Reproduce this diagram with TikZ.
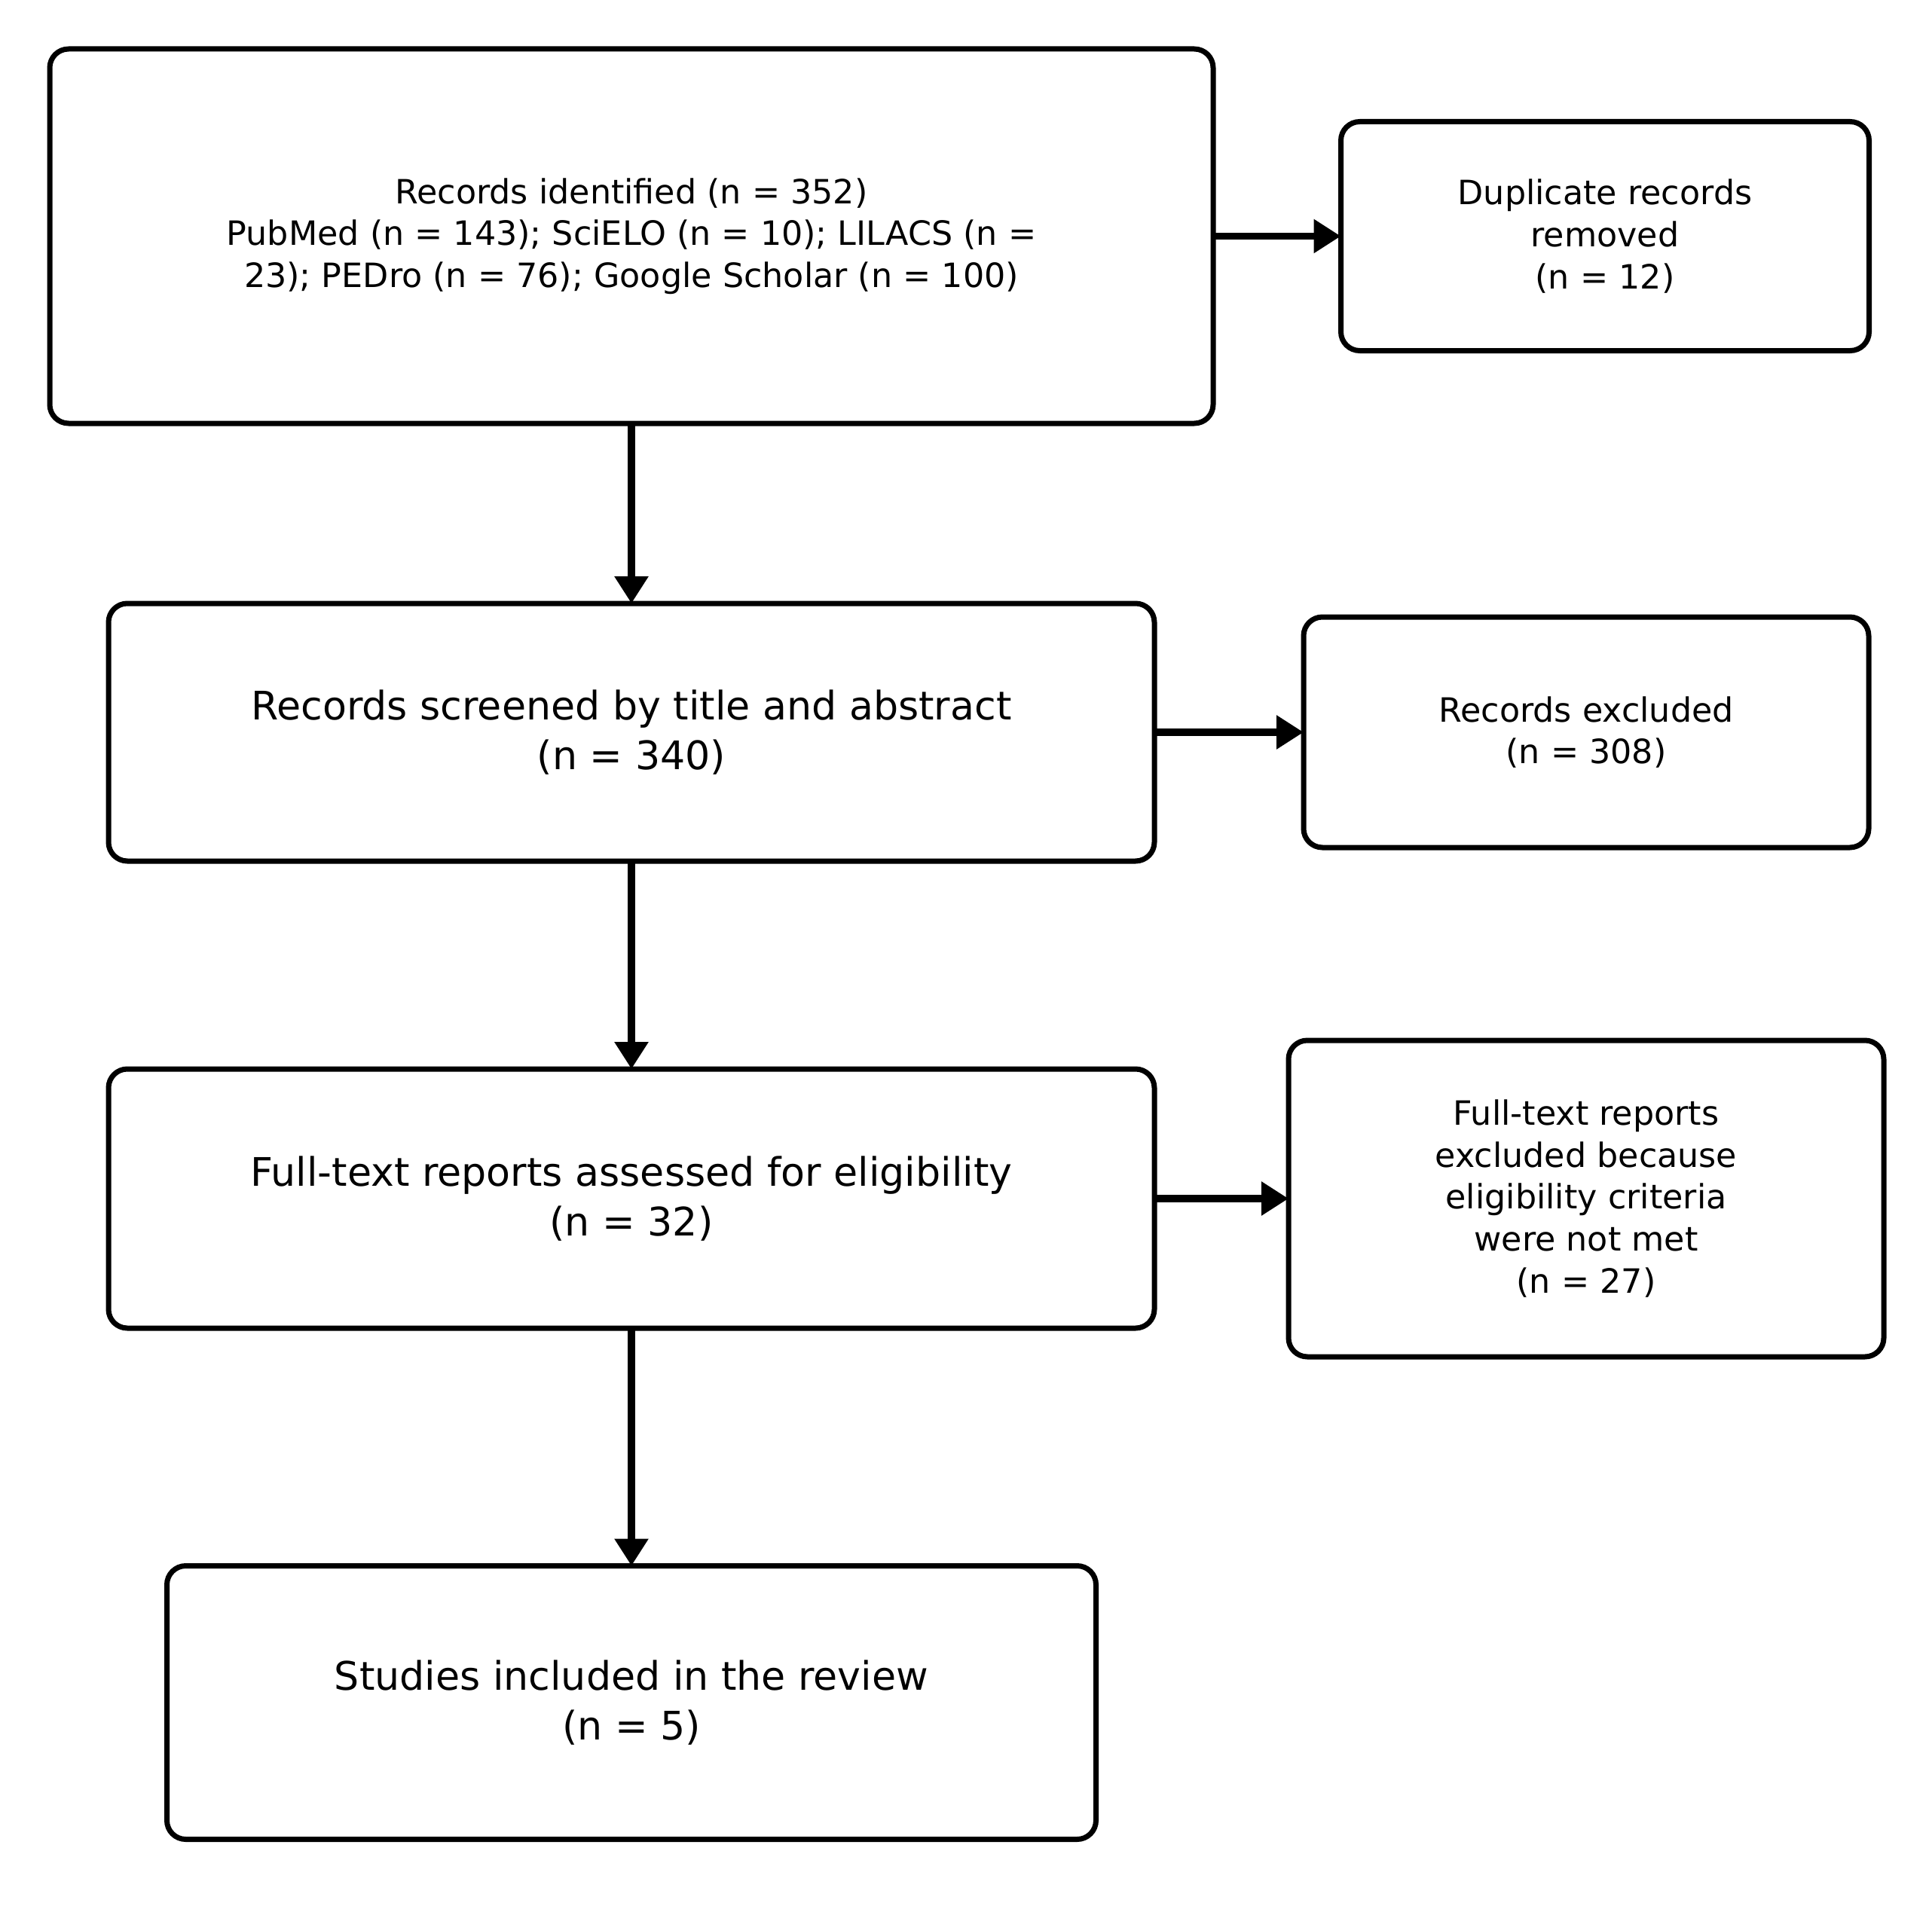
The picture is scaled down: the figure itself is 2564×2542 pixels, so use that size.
\documentclass[tikz,border=0pt]{standalone}
\usepackage{fontspec}
\setmainfont{DejaVu Sans}
\usetikzlibrary{arrows.meta}
\tikzset{
  boxbase/.style={draw=black, line width=3.5pt, rounded corners=12.5pt, align=center, inner sep=0pt, outer sep=0pt, text=black},
  smalltext/.style={font=\fontsize{22.2pt}{27.8pt}\selectfont},
  bigtext/.style={font=\fontsize{26.1pt}{32.7pt}\selectfont},
  arr/.style={draw=black, line width=4.6pt, -{Triangle[length=18pt,width=21.5pt]}}
}
\begin{document}
\begin{tikzpicture}[x=0.5pt,y=-0.5pt]
\useasboundingbox[fill=white] (0,0) rectangle (2564,2542);
\node[boxbase,smalltext,minimum width=772pt,minimum height=248.5pt] (b1) at (838,313.5)
  {Records identified (n = 352)\\PubMed (n = 143); SciELO (n = 10); LILACS (n =\\23); PEDro (n = 76); Google Scholar (n = 100)};
\node[boxbase,smalltext,minimum width=350.5pt,minimum height=152pt] (dup) at (2130,313.5)
  {Duplicate records\\removed\\(n = 12)};
\node[boxbase,bigtext,minimum width=694pt,minimum height=171pt] (b2) at (838,972)
  {Records screened by title and abstract\\(n = 340)};
\node[boxbase,smalltext,minimum width=375pt,minimum height=153pt] (rex) at (2105,972)
  {Records excluded\\(n = 308)};
\node[boxbase,bigtext,minimum width=694pt,minimum height=172pt] (b3) at (838,1591)
  {Full-text reports assessed for eligibility\\(n = 32)};
\node[boxbase,smalltext,minimum width=395pt,minimum height=210pt] (ftx) at (2105,1591)
  {Full-text reports\\excluded because\\eligibility criteria\\were not met\\(n = 27)};
\node[boxbase,bigtext,minimum width=616.5pt,minimum height=181.5pt] (b4) at (838,2260)
  {Studies included in the review\\(n = 5)};
\draw[arr] (b1.south) -- (b2.north);
\draw[arr] (b2.south) -- (b3.north);
\draw[arr] (b3.south) -- (b4.north);
\draw[arr] (b1.east) -- (dup.west);
\draw[arr] (b2.east) -- (rex.west);
\draw[arr] (b3.east) -- (ftx.west);
\end{tikzpicture}
\end{document}
